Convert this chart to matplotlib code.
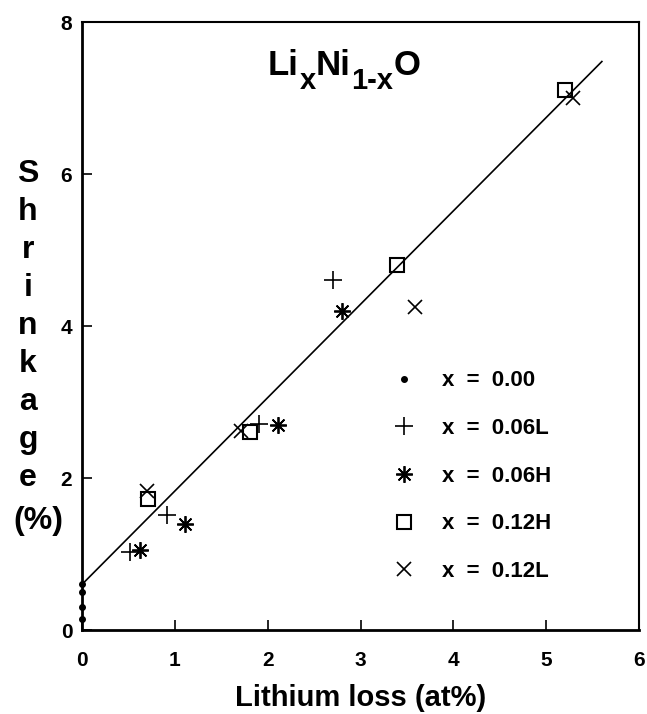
import matplotlib
matplotlib.use('Agg')
import matplotlib.pyplot as plt

plt.rcParams['font.family'] = 'Liberation Sans'

# data
x000_loss = [0.0, 0.0, 0.0, 0.0]
x000_shrink = [0.6, 0.5, 0.3, 0.15]
x006L_loss = [0.52, 0.92, 1.91, 2.70]
x006L_shrink = [1.02, 1.51, 2.71, 4.60]
x006H_loss = [0.62, 1.11, 2.11, 2.80]
x006H_shrink = [1.05, 1.40, 2.70, 4.20]
x012H_loss = [0.71, 1.81, 3.39, 5.20]
x012H_shrink = [1.72, 2.60, 4.80, 7.11]
x012L_loss = [0.70, 1.71, 3.59, 5.29]
x012L_shrink = [1.83, 2.62, 4.25, 7.00]
fit_x = [0.0, 5.6]
fit_y = [0.6, 7.48]

labels = ['x  =  0.00', 'x  =  0.06L', 'x  =  0.06H', 'x  =  0.12H', 'x  =  0.12L']

fig = plt.figure(figsize=(6.47, 7.14), dpi=100)
ax = fig.add_axes([82 / 647, 1 - 630 / 714, 557 / 647, 608 / 714])

ax.plot(fit_x, fit_y, color='black', lw=1.2, zorder=1)
ax.plot(x000_loss, x000_shrink, 'o', color='black', ms=4, label=labels[0], clip_on=False)
ax.plot(x006L_loss, x006L_shrink, '+', color='black', ms=13, mew=1.2, label=labels[1])
ax.plot(x006H_loss, x006H_shrink, marker=(8, 2, 0), ls='none', color='black', ms=12, mew=1.3, label=labels[2])
ax.plot(x012H_loss, x012H_shrink, 's', mfc='none', mec='black', ms=10, mew=1.5, label=labels[3])
ax.plot(x012L_loss, x012L_shrink, 'x', color='black', ms=10, mew=1.2, label=labels[4])

ax.set_xlim(0, 6)
ax.set_ylim(0, 8)
ax.set_xticks(range(0, 7))
ax.set_yticks(range(0, 9, 2))
ax.tick_params(direction='in', length=7, width=1.2, labelsize=15)
ax.tick_params(axis='x', pad=15)
ax.tick_params(axis='y', pad=7)
for lab in ax.get_xticklabels() + ax.get_yticklabels():
    lab.set_fontweight('bold')
for side in ['left', 'bottom']:
    ax.spines[side].set_linewidth(2)
for side in ['top', 'right']:
    ax.spines[side].set_linewidth(1.5)

ax.set_xlabel('Lithium loss (at%)', fontsize=21, fontweight='bold', labelpad=10)

# stacked y-label
ylab = 'Shrinkage'
for i, ch in enumerate(ylab):
    fig.text(28 / 647, 1 - (174 + i * 38) / 714, ch, fontsize=23, fontweight='bold',
             ha='center', va='center')
fig.text(38 / 647, 1 - 521 / 714, '(%)', fontsize=23, fontweight='bold',
         ha='center', va='center')

# title Li_x Ni_(1-x) O built from pieces so the subscripts stay large
title_parts = [('Li', False), ('x', True), ('Ni', False), ('1-x', True), ('O', False)]
prev = ax.text(0.334, 0.913, title_parts[0][0], transform=ax.transAxes,
               fontsize=25, fontweight='bold', ha='left', va='baseline')
prev_sub = False
for part, is_sub in title_parts[1:]:
    if is_sub == prev_sub:
        dy = 0
    elif is_sub:
        dy = -9.5
    else:
        dy = 9.5
    prev = ax.annotate(part, xy=(1, 0), xycoords=prev, xytext=(0.3, dy),
                       textcoords='offset points', fontsize=21 if is_sub else 25,
                       fontweight='bold', ha='left', va='bottom')
    prev_sub = is_sub

leg = ax.legend(loc='upper left', bbox_to_anchor=(0.518, 0.46), frameon=False,
                prop={'weight': 'bold', 'size': 16}, handlelength=1.2,
                handletextpad=1.1, labelspacing=1.2, numpoints=1)

fig.savefig('out.png', dpi=100)
